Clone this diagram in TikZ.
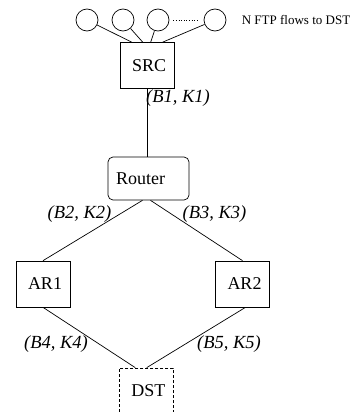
\documentclass[tikz,border=0pt]{standalone}
\usepackage{fontspec}
\setmainfont{Liberation Serif}
\begin{document}
\begin{tikzpicture}[x=1pt,y=-1pt, line width=0.7pt,
  flow/.style={draw, circle, minimum size=22pt, inner sep=0pt},
  boxnode/.style={draw, rectangle, minimum height=46pt, inner xsep=12pt, text width=30pt, align=left, font=\fontsize{18}{20}\selectfont},
  rtnode/.style={draw, rectangle, rounded corners=5pt, minimum height=43pt, inner xsep=8pt, text width=65pt, align=left, font=\fontsize{18}{20}\selectfont},
  dstnode/.style={boxnode, dash pattern=on 3pt off 2pt},
  lbl/.style={inner sep=0pt, font=\fontsize{18.5}{20}\selectfont\itshape},
  link/.style={draw}]
\clip (0,0) rectangle (360,412);
\node[flow] (c1) at (87,20) {};
\node[flow] (c2) at (123,20) {};
\node[flow] (c3) at (158,20) {};
\node[flow] (c4) at (215,20) {};
\node[anchor=west, inner sep=0pt, font=\fontsize{13}{15}\selectfont] (cap) at (241.5,20) {N FTP flows to DST};
\node[boxnode] (src) at (147,65.5) {SRC};
\node[rtnode] (router) at (148.5,178.5) {Router};
\node[boxnode] (ar1) at (43,284) {AR1};
\node[boxnode] (ar2) at (242.5,284) {AR2};
\node[dstnode] (dst) at (146.3,391) {DST};
\draw[link] (c1) -- ([xshift=-15.3pt]src.north);
\draw[link] (c2) -- ([xshift=-4.3pt]src.north);
\draw[link] (c3) -- ([xshift=3.7pt]src.north);
\draw[link] (c4) -- ([xshift=15.7pt]src.north);
\draw[dotted, line width=0.6pt, shorten <=4pt, shorten >=6pt] (c3) -- (c4);
\draw[link] (src.south) -- (router.north -| src.south);
\draw[link] ([xshift=-6pt]router.south) -- (ar1.north);
\draw[link] ([xshift=2pt]router.south) -- (ar2.north);
\draw[link] (ar1.south) -- ([xshift=-11pt]dst.north);
\draw[link] ([xshift=3pt]ar2.south) -- ([xshift=0.4pt]dst.north);
\node[lbl] (l1) at (178,98) {(B1, K1)};
\node[lbl] (l2) at (79.5,214) {(B2, K2)};
\node[lbl] (l3) at (214.5,214) {(B3, K3)};
\node[lbl] (l4) at (56,344) {(B4, K4)};
\node[lbl] (l5) at (229,344) {(B5, K5)};
\end{tikzpicture}
\end{document}
